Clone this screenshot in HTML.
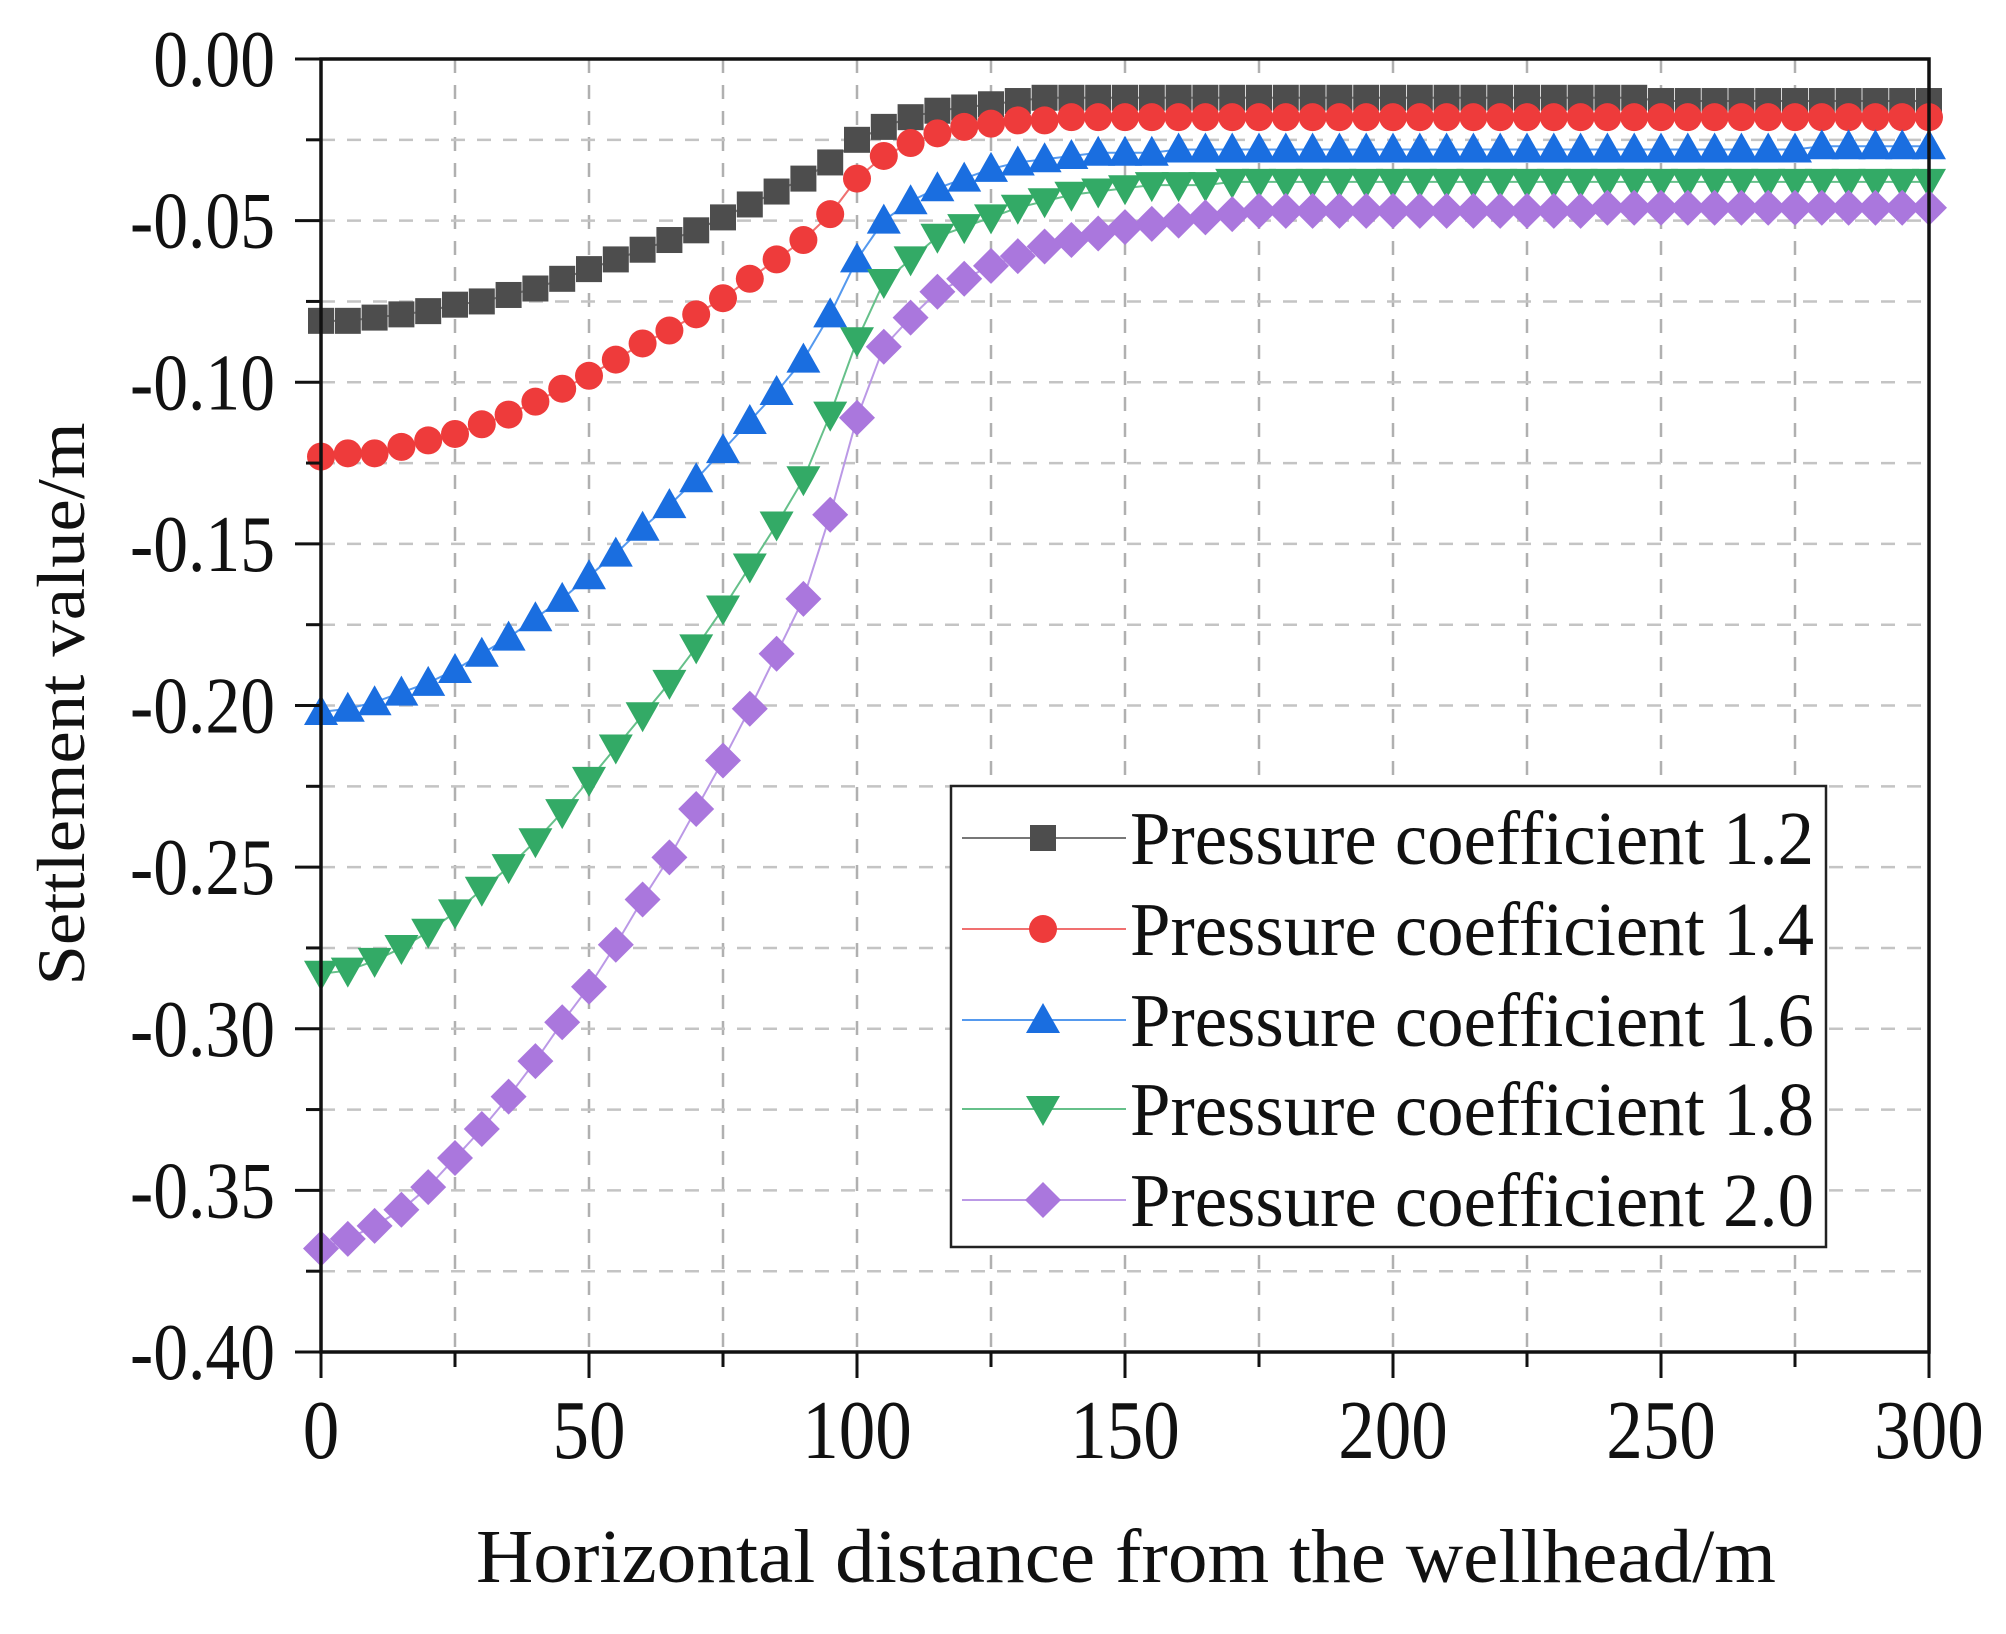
<!DOCTYPE html>
<html><head><meta charset="utf-8"><style>
html,body{margin:0;padding:0;background:#fff;}
svg{display:block;}
text{font-family:"Liberation Serif",serif;fill:#111;}
</style></head><body>
<svg id="chart" width="2006" height="1634" viewBox="0 0 2006 1634">
<g id="grid"></g>
<g id="series"></g>
<g id="axes"></g>
<text x="1126" y="1582" font-size="76" text-anchor="middle" textLength="1300" lengthAdjust="spacingAndGlyphs">Horizontal distance from the wellhead/m</text>
<text transform="translate(84,704) rotate(-90)" font-size="68" text-anchor="middle" textLength="563" lengthAdjust="spacingAndGlyphs">Settlement value/m</text>
<g id="legend"></g>
</svg>
<script>
const xValues = [];
for (let i = 0; i <= 60; i++) xValues.push(i * 5);
const seriesNames = ["Pressure coefficient 1.2","Pressure coefficient 1.4","Pressure coefficient 1.6","Pressure coefficient 1.8","Pressure coefficient 2.0"];
const s12 = [-0.081,-0.081,-0.080,-0.079,-0.078,-0.076,-0.075,-0.073,-0.071,-0.068,-0.065,-0.062,-0.059,-0.056,-0.053,-0.049,-0.045,-0.041,-0.037,-0.032,-0.025,-0.021,-0.018,-0.016,-0.015,-0.014,-0.013,-0.012,-0.012,-0.012,-0.012,-0.012,-0.012,-0.012,-0.012,-0.012,-0.012,-0.012,-0.012,-0.012,-0.012,-0.012,-0.012,-0.012,-0.012,-0.012,-0.012,-0.012,-0.012,-0.012,-0.013,-0.013,-0.013,-0.013,-0.013,-0.013,-0.013,-0.013,-0.013,-0.013,-0.013];
const s14 = [-0.123,-0.122,-0.122,-0.120,-0.118,-0.116,-0.113,-0.110,-0.106,-0.102,-0.098,-0.093,-0.088,-0.084,-0.079,-0.074,-0.068,-0.062,-0.056,-0.048,-0.037,-0.030,-0.026,-0.023,-0.021,-0.020,-0.019,-0.019,-0.018,-0.018,-0.018,-0.018,-0.018,-0.018,-0.018,-0.018,-0.018,-0.018,-0.018,-0.018,-0.018,-0.018,-0.018,-0.018,-0.018,-0.018,-0.018,-0.018,-0.018,-0.018,-0.018,-0.018,-0.018,-0.018,-0.018,-0.018,-0.018,-0.018,-0.018,-0.018,-0.018];
const s16 = [-0.202,-0.201,-0.199,-0.196,-0.193,-0.189,-0.184,-0.179,-0.173,-0.167,-0.160,-0.153,-0.145,-0.138,-0.130,-0.121,-0.112,-0.103,-0.093,-0.079,-0.062,-0.050,-0.044,-0.040,-0.037,-0.034,-0.032,-0.031,-0.030,-0.029,-0.029,-0.029,-0.028,-0.028,-0.028,-0.028,-0.028,-0.028,-0.028,-0.028,-0.028,-0.028,-0.028,-0.028,-0.028,-0.028,-0.028,-0.028,-0.028,-0.028,-0.028,-0.028,-0.028,-0.028,-0.028,-0.028,-0.027,-0.027,-0.027,-0.027,-0.027];
const s18 = [-0.283,-0.282,-0.279,-0.275,-0.270,-0.264,-0.257,-0.250,-0.242,-0.233,-0.223,-0.213,-0.203,-0.193,-0.182,-0.170,-0.157,-0.144,-0.130,-0.110,-0.087,-0.069,-0.062,-0.055,-0.052,-0.049,-0.046,-0.044,-0.042,-0.041,-0.040,-0.039,-0.039,-0.039,-0.038,-0.038,-0.038,-0.038,-0.038,-0.038,-0.038,-0.038,-0.038,-0.038,-0.038,-0.038,-0.038,-0.038,-0.038,-0.038,-0.038,-0.038,-0.038,-0.038,-0.038,-0.038,-0.038,-0.038,-0.038,-0.038,-0.038];
const s20 = [-0.368,-0.365,-0.361,-0.356,-0.349,-0.340,-0.331,-0.321,-0.310,-0.298,-0.287,-0.274,-0.260,-0.247,-0.232,-0.217,-0.201,-0.184,-0.167,-0.141,-0.111,-0.089,-0.080,-0.072,-0.068,-0.064,-0.061,-0.058,-0.056,-0.054,-0.052,-0.051,-0.050,-0.049,-0.048,-0.047,-0.047,-0.047,-0.047,-0.047,-0.047,-0.047,-0.047,-0.047,-0.047,-0.047,-0.047,-0.047,-0.046,-0.046,-0.046,-0.046,-0.046,-0.046,-0.046,-0.046,-0.046,-0.046,-0.046,-0.046,-0.046];
const xTicks = [0,50,100,150,200,250,300];
const yTicks = [0,-0.05,-0.10,-0.15,-0.20,-0.25,-0.30,-0.35,-0.40];
const yTickLabels = ["0.00","-0.05","-0.10","-0.15","-0.20","-0.25","-0.30","-0.35","-0.40"];

const NS="http://www.w3.org/2000/svg";
const L=321,R=1929,T=59,B=1352;
const X=v=>L+(v/300)*(R-L);
const Y=v=>T+(-v/0.40)*(B-T);
function mk(tag,attrs,parent){const e=document.createElementNS(NS,tag);for(const k in attrs)e.setAttribute(k,attrs[k]);parent.appendChild(e);return e;}
const grid=document.getElementById('grid'),axes=document.getElementById('axes'),ser=document.getElementById('series'),leg=document.getElementById('legend');

for(let v=25;v<300;v+=25){const l=mk('line',{x1:X(v),x2:X(v),y1:T,y2:B,stroke:'#b0b0b0','stroke-width':2.5,'stroke-dasharray':'14 12'},grid);

}
for(let v=-0.025;v>-0.4;v-=0.025){const l=mk('line',{x1:L,x2:R,y1:Y(v),y2:Y(v),stroke:'#c4c4c4','stroke-width':2.5,'stroke-dasharray':'14 12'},grid);

}

const styles=[
 {c:'#4d4d4d',lc:'#777',m:'square'},
 {c:'#ee3b3b',lc:'#f07070',m:'circle'},
 {c:'#1a6ee0',lc:'#5599ee',m:'up'},
 {c:'#33aa66',lc:'#66c08a',m:'down'},
 {c:'#aa77dd',lc:'#bb99e6',m:'diamond'}];
const allSeries=[s12,s14,s16,s18,s20];
function marker(type,cx,cy,color,parent){
 let e;
 if(type==='square')e=mk('rect',{x:cx-13,y:cy-13,width:26,height:26,fill:color},parent);
 else if(type==='circle')e=mk('circle',{cx:cx,cy:cy,r:14,fill:color},parent);
 else if(type==='up')e=mk('polygon',{points:`${cx},${cy-17} ${cx-17},${cy+13} ${cx+17},${cy+13}`,fill:color},parent);
 else if(type==='down')e=mk('polygon',{points:`${cx},${cy+17} ${cx-17},${cy-13} ${cx+17},${cy-13}`,fill:color},parent);
 else e=mk('polygon',{points:`${cx},${cy-18} ${cx+18},${cy} ${cx},${cy+18} ${cx-18},${cy}`,fill:color},parent);
 return e;}
allSeries.forEach((data,si)=>{
 const st=styles[si];
 const g=mk('g',{},ser);
 
 
 const pts=data.map((v,i)=>X(xValues[i])+','+Y(v)).join(' ');
 const pl=mk('polyline',{points:pts,fill:'none',stroke:st.lc,'stroke-width':2},g);
 
 
 data.forEach((v,i)=>{const m=marker(st.m,X(xValues[i]),Y(v),st.c,g);
  
  });
});

const fr=mk('rect',{x:L,y:T,width:R-L,height:B-T,fill:'none',stroke:'#111','stroke-width':3.5},axes);


for(let v=0;v<=300;v+=25){const t=mk('line',{x1:X(v),x2:X(v),y1:B,y2:B+(v%50===0?26:15),stroke:'#111','stroke-width':3},axes);
 
 }
for(let v=0;v>=-0.4001;v-=0.025){const maj=Math.abs(Math.round(v*1000)%50)===0;const t=mk('line',{x1:L-(maj?26:15),x2:L,y1:Y(v),y2:Y(v),stroke:'#111','stroke-width':3},axes);
 
 }
xTicks.forEach(v=>{const t=mk('text',{transform:`translate(${X(v)},1458) scale(0.87,1)`,'font-size':84,'text-anchor':'middle'},axes);t.textContent=String(v);
 
 });
yTicks.forEach((v,i)=>{const t=mk('text',{transform:`translate(275,${Y(v)+27}) scale(0.87,1)`,'font-size':80,'text-anchor':'end'},axes);t.textContent=yTickLabels[i];
 
 });

const lb=mk('rect',{x:951,y:786,width:875,height:461,fill:'#fff',stroke:'#222','stroke-width':2.5},leg);


const ly=[838,929,1020,1109,1200];
seriesNames.forEach((n,i)=>{
 const g=mk('g',{},leg);
 
 
 mk('line',{x1:962,x2:1126,y1:ly[i],y2:ly[i],stroke:styles[i].lc,'stroke-width':2},g);
 marker(styles[i].m,1043,ly[i],styles[i].c,g);
 const t=mk('text',{x:1130,y:ly[i]+26,'font-size':76,textLength:684,lengthAdjust:'spacingAndGlyphs'},g);t.textContent=n;
});
</script>
</body></html>
